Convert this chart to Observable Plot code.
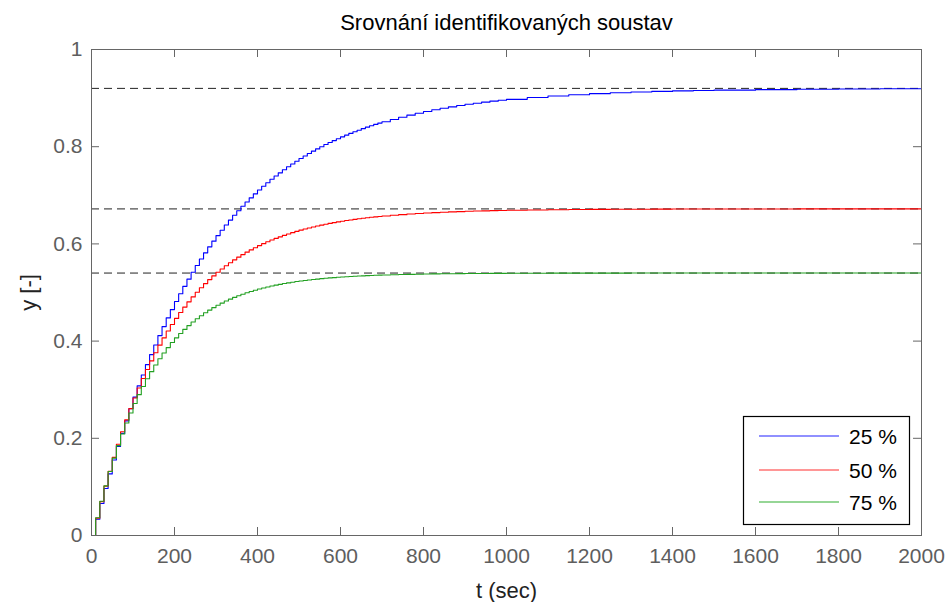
<!DOCTYPE html>
<html><head><meta charset="utf-8">
<script src="https://cdn.jsdelivr.net/npm/d3@7"></script>
<script src="https://cdn.jsdelivr.net/npm/@observablehq/plot@0.6"></script>
<style>
html,body{margin:0;padding:0;background:#fff;}
#chart svg{display:block;}
</style>
</head><body><div id="chart"></div>
<script>
// sample times (s)
const tSec = [
  0,10,20,30,40,50,60,70,80,90,
  100,110,120,130,140,150,160,170,180,190,
  200,210,220,230,240,250,260,270,280,290,
  300,310,320,330,340,350,360,370,380,390,
  400,410,420,430,440,450,460,470,480,490,
  500,510,520,530,540,550,560,570,580,590,
  600,610,620,630,640,650,660,670,680,690,
  700,720,740,760,780,800,820,840,860,880,
  900,920,940,960,980,1000,1050,1100,1150,1200,
  1250,1300,1350,1400,1450,1500,1600,1700,1800,1900,
  2000
];
const y25 = [
  0,
  0.0335,0.0657,0.0967,0.1267,0.1555,0.1833,0.2101,0.2359,0.2608,0.2848,
  0.3079,0.3301,0.3516,0.3722,0.3921,0.4113,0.4298,0.4477,0.4648,0.4814,
  0.4973,0.5127,0.5275,0.5418,0.5555,0.5688,0.5816,0.5939,0.6057,0.6171,
  0.6282,0.6388,0.6490,0.6589,0.6683,0.6775,0.6863,0.6948,0.7030,0.7109,
  0.7185,0.7258,0.7329,0.7397,0.7462,0.7526,0.7586,0.7645,0.7702,0.7756,
  0.7809,0.7859,0.7908,0.7955,0.8000,0.8044,0.8086,0.8126,0.8165,0.8203,
  0.8239,0.8274,0.8308,0.8340,0.8372,0.8402,0.8431,0.8459,0.8486,0.8512,
  0.8561,0.8607,0.8649,0.8688,0.8725,0.8759,0.8791,0.8820,0.8847,0.8872,
  0.8895,0.8917,0.8937,0.8956,0.8974,
  0.9012,0.9043,0.9070,0.9092,0.9110,0.9125,0.9138,0.9148,0.9157,0.9164,
  0.9175,0.9183,0.9188,0.9192,0.9194
];
const y50 = [
  0,
  0.0357,0.0696,0.1016,0.1319,0.1607,0.1879,0.2136,0.2380,0.2611,0.2829,
  0.3036,0.3232,0.3417,0.3593,0.3759,0.3917,0.4066,0.4207,0.4341,0.4467,
  0.4587,0.4700,0.4808,0.4909,0.5006,0.5097,0.5183,0.5265,0.5342,0.5416,
  0.5485,0.5551,0.5613,0.5672,0.5727,0.5780,0.5830,0.5877,0.5922,0.5965,
  0.6005,0.6043,0.6079,0.6113,0.6145,0.6176,0.6205,0.6232,0.6258,0.6283,
  0.6306,0.6328,0.6349,0.6369,0.6387,0.6405,0.6422,0.6438,0.6453,0.6467,
  0.6480,0.6493,0.6505,0.6517,0.6527,0.6538,0.6547,0.6556,0.6565,0.6573,
  0.6589,0.6602,0.6614,0.6625,0.6635,0.6644,0.6652,0.6659,0.6665,0.6671,
  0.6676,0.6680,0.6685,0.6688,0.6692,
  0.6698,0.6704,0.6708,0.6710,0.6713,0.6714,0.6716,0.6717,0.6718,0.6718,
  0.6719,0.6720,0.6720,0.6720,0.6720
];
const y75 = [
  0,
  0.0365,0.0705,0.1022,0.1318,0.1593,0.1850,0.2090,0.2314,0.2522,0.2717,
  0.2898,0.3067,0.3224,0.3371,0.3508,0.3636,0.3755,0.3866,0.3970,0.4067,
  0.4157,0.4241,0.4319,0.4392,0.4460,0.4523,0.4583,0.4638,0.4689,0.4737,
  0.4782,0.4824,0.4863,0.4899,0.4933,0.4964,0.4994,0.5021,0.5047,0.5071,
  0.5093,0.5114,0.5133,0.5151,0.5168,0.5184,0.5198,0.5212,0.5225,0.5236,
  0.5247,0.5258,0.5267,0.5276,0.5285,0.5292,0.5300,0.5306,0.5313,0.5319,
  0.5324,0.5329,0.5334,0.5339,0.5343,0.5347,0.5350,0.5354,0.5357,0.5360,
  0.5365,0.5369,0.5373,0.5377,0.5380,0.5383,0.5385,0.5387,0.5388,0.5390,
  0.5391,0.5392,0.5393,0.5394,0.5395,
  0.5397,0.5398,0.5399,0.5399,0.5399,0.5400,0.5400,0.5400,0.5400,0.5400,
  0.5400,0.5400,0.5400,0.5400,0.5400
];
const finals = [0.92, 0.672, 0.54];
const seriesNames = ["25 %", "50 %", "75 %"];
const seriesColors = ["#0000ff", "#ff0000", "#22a022"];
const legendColors = ["#6b6bff", "#ff7373", "#73c873"];
const xTicks = [0,200,400,600,800,1000,1200,1400,1600,1800,2000];
const yTicks = [0,0.2,0.4,0.6,0.8,1];
const titleText = "Srovnání identifikovaných soustav";
const xLabel = "t (sec)";
const yLabel = "y [-]";

const W = 949, H = 602, mL = 91, mR = 28, mT = 49, mB = 67;
const plotW = W - mL - mR, plotH = H - mT - mB;
const tickLen = 8;
const axisGrey = "#666";
const font = "'Liberation Sans', Arial, Helvetica, sans-serif";

const allY = [y25, y50, y75];
const rows = [];
allY.forEach((arr, s) => tSec.forEach((t, i) => rows.push({t, y: arr[i], s: seriesNames[s]})));

const chart = Plot.plot({
  width: W, height: H,
  marginLeft: mL, marginRight: mR, marginTop: mT, marginBottom: mB,
  style: {fontFamily: font, background: "#fff", overflow: "visible"},
  x: {domain: [0, 2000], nice: false},
  y: {domain: [0, 1], nice: false},
  color: {domain: seriesNames, range: seriesColors},
  marks: [
    Plot.ruleY(finals, {y: d => d, stroke: "#222", strokeWidth: 1, strokeDasharray: "8,5"}),
    Plot.line(rows, {x: "t", y: "y", z: "s", stroke: "s", curve: "step-after", strokeWidth: 1.1}),
    Plot.frame({stroke: axisGrey, strokeWidth: 1}),
    Plot.ruleX(xTicks, {x: d => d, stroke: axisGrey, insetTop: plotH - tickLen}),
    Plot.ruleX(xTicks, {x: d => d, stroke: axisGrey, insetBottom: plotH - tickLen}),
    Plot.ruleY(yTicks, {y: d => d, stroke: axisGrey, insetRight: plotW - tickLen}),
    Plot.ruleY(yTicks, {y: d => d, stroke: axisGrey, insetLeft: plotW - tickLen}),
    Plot.axisX(xTicks, {tickSize: 0, tickPadding: 13, fontSize: 21, color: "#5e5e5e", label: null, tickFormat: d => String(d)}),
    Plot.axisY(yTicks, {tickSize: 0, tickPadding: 9, fontSize: 21, color: "#5e5e5e", label: null, tickFormat: d => String(d)}),
    Plot.text([titleText], {frameAnchor: "top", dy: -27, text: d => d, fontSize: 22, fill: "#000", lineAnchor: "middle", textAnchor: "middle"}),
    Plot.text([xLabel], {frameAnchor: "bottom", dy: 55, text: d => d, fontSize: 22, fill: "#222", lineAnchor: "middle", textAnchor: "middle"}),
    Plot.text([yLabel], {frameAnchor: "left", dx: -63, text: d => d, fontSize: 22, fill: "#222", rotate: -90, lineAnchor: "middle", textAnchor: "middle"})
  ]
});
document.getElementById("chart").appendChild(chart);

// legend box (MATLAB style, inside lower-right of the axes)
const boxW = 166, boxH = 108, offR = 12, offB = 11;
const bx = W - mR - offR - boxW, by = H - mB - offB - boxH;
const lg = d3.select(chart).append("g").attr("transform", `translate(${bx},${by})`);
lg.append("rect").attr("x", 0.5).attr("y", 0.5).attr("width", boxW).attr("height", boxH)
  .attr("fill", "#fff").attr("stroke", "#000").attr("stroke-width", 1.2);
const rowY = [20, 54, 86];
seriesNames.forEach((name, i) => {
  lg.append("line").attr("x1", 16).attr("x2", 96).attr("y1", rowY[i]).attr("y2", rowY[i])
    .attr("stroke", legendColors[i]).attr("stroke-width", 1.4);
  lg.append("text").attr("x", 106).attr("y", rowY[i]).attr("dy", "0.36em")
    .attr("text-anchor", "start")
    .attr("font-family", font).attr("font-size", 21).attr("fill", "#000").text(name);
});
</script>
</body></html>
